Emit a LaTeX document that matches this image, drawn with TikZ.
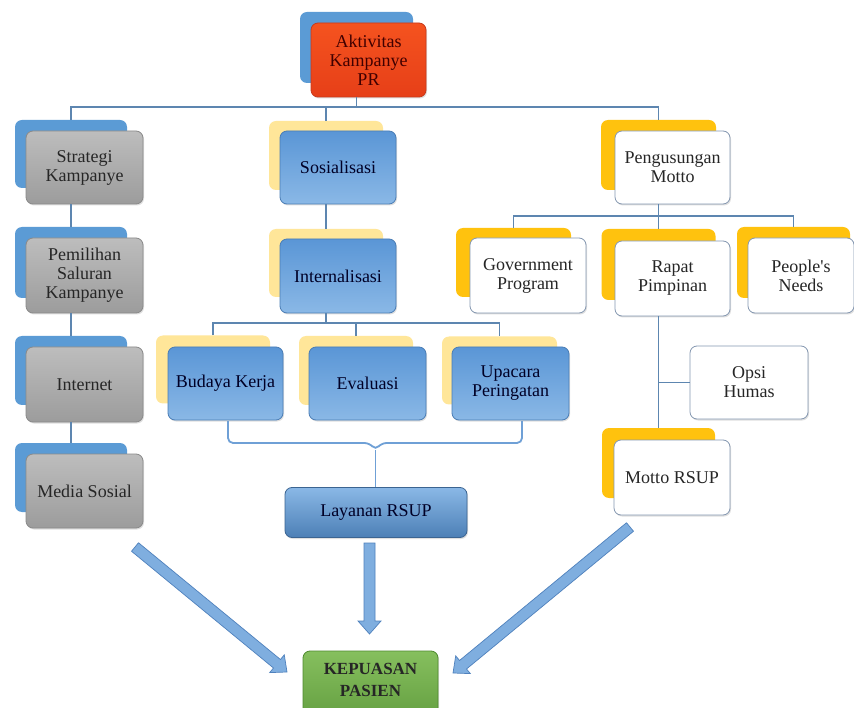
\documentclass[tikz,border=0pt]{standalone}
\usepackage{fontspec}
\setmainfont{Liberation Serif}
\newfontfamily\serifrm{Liberation Serif}
\usetikzlibrary{calc,shadows}
\definecolor{backblue}{HTML}{5B9BD5}
\definecolor{paleyel}{HTML}{FFE699}
\definecolor{gold}{HTML}{FFC20E}
\definecolor{linecol}{HTML}{5D86B0}
\definecolor{bluetop}{HTML}{5A96D6}
\definecolor{bluebot}{HTML}{8AB8E6}
\definecolor{blueline}{HTML}{4A7DB5}
\definecolor{graytop}{HTML}{BDBDBD}
\definecolor{graybot}{HTML}{9C9C9C}
\definecolor{grayline}{HTML}{8A8A8A}
\definecolor{redtop}{HTML}{F5531F}
\definecolor{redbot}{HTML}{E63F18}
\definecolor{redline}{HTML}{C73A1C}
\definecolor{greentop}{HTML}{86BF5E}
\definecolor{greenbot}{HTML}{5E9A3C}
\definecolor{greenline}{HTML}{4E8A2E}
\definecolor{whiteline}{HTML}{8497B0}
\definecolor{arrfill}{HTML}{7FAEDF}
\definecolor{arrline}{HTML}{4F81BD}
\definecolor{brkcol}{HTML}{6FA0D6}
\newcommand\boxfont{\serifrm\fontsize{18}{19}\selectfont}
\newcommand\myarrow[3]{%
  \coordinate (#1h) at ($(#3)!13pt!(#2)$);
  \filldraw[barrow] ($(#2)!5.5pt!90:(#3)$) -- ($(#1h)!5.5pt!90:(#3)$) -- ($(#1h)!11.5pt!90:(#3)$) -- (#3)
    -- ($(#1h)!11.5pt!-90:(#3)$) -- ($(#1h)!5.5pt!-90:(#3)$) -- ($(#2)!5.5pt!-90:(#3)$) -- cycle;}
\begin{document}
\begin{tikzpicture}[x=1pt,y=-1pt,
  back/.style={rounded corners=7pt, inner sep=0pt, minimum width=113pt, minimum height=70pt},
  bblue/.style={back, fill=backblue},
  byel/.style={back, fill=paleyel},
  bgold/.style={back, fill=gold},
  front/.style={rounded corners=7pt, inner sep=0pt, minimum width=116pt, minimum height=74pt,
    align=center, font=\boxfont, line width=0.8pt,
    drop shadow={opacity=0.25, shadow xshift=1pt, shadow yshift=-1.5pt}},
  fblue/.style={front, top color=bluetop, bottom color=bluebot, draw=blueline, text=black!85!blue},
  fgray/.style={front, top color=graytop, bottom color=graybot, draw=grayline, text=black!85},
  fwhite/.style={front, fill=white, draw=whiteline, text=black!85},
  fred/.style={front, top color=redtop, bottom color=redbot, draw=redline, text=black!75!red},
  fgreen/.style={front, top color=greentop, bottom color=greenbot, draw=greenline},
  greentext/.style={inner sep=0pt, align=center, text=black!85,
    font=\serifrm\fontsize{17}{22.5}\selectfont\bfseries},
  conn/.style={draw=linecol, line width=1.2pt},
  brk/.style={draw=brkcol, line width=1.8pt},
  barrow/.style={fill=arrfill, draw=arrline, line width=0.7pt, line join=miter}]
\clip (0,0) rectangle (854,708);
\fill[white] (0,0) rectangle (854,708);

% ---- back boxes
\node[bblue, minimum height=71pt] (aktB) at (356.5,47.5) {};
\node[bblue, minimum width=112pt, minimum height=68pt] (stratB) at (71,154) {};
\node[byel, minimum width=114pt, minimum height=69pt] (sosB) at (326,155.5) {};
\node[bgold, minimum width=115pt] (pengB) at (658.5,155) {};
\node[bgold, minimum width=115pt, minimum height=69pt] (govB) at (513.5,262.5) {};
\node[bgold, minimum width=114pt, minimum height=71pt] (rapB) at (658.5,264.5) {};
\node[bgold, minimum height=71pt] (peoB) at (793.5,262.5) {};
\node[bblue, minimum width=112pt, minimum height=71pt] (pemB) at (71,262.5) {};
\node[bblue, minimum width=112pt, minimum height=69pt] (intB) at (71,370.5) {};
\node[bblue, minimum width=112pt, minimum height=69pt] (medB) at (71,477.5) {};
\node[byel, minimum width=114pt, minimum height=68pt] (inlB) at (326,263) {};
\node[byel, minimum width=114pt, minimum height=68pt] (budB) at (213,369.5) {};
\node[byel, minimum width=114pt, minimum height=69pt] (evaB) at (356,370.5) {};
\node[byel, minimum width=115pt, minimum height=68pt] (upaB) at (499.5,370.5) {};
\node[bgold, minimum height=70pt] (motB) at (658.5,463) {};

% ---- front boxes
\node[fred, minimum width=115pt] (aktF) at (368.5,60) {Aktivitas\\Kampanye\\PR};
\node[fgray, minimum width=117pt, minimum height=73pt] (stratF) at (84.5,167.5) {Strategi\\Kampanye};
\node[fblue, minimum height=73pt] (sosF) at (338,167.5) {Sosialisasi};
\node[fwhite, minimum width=115pt, minimum height=73pt] (pengF) at (672.5,167.5) {Pengusungan\\Motto};
\node[fwhite, minimum height=75pt] (govF) at (528,275.5) {Government\\Program};
\node[fwhite, minimum width=115pt, minimum height=75pt] (rapF) at (672.5,278.5) {Rapat\\Pimpinan};
\node[fwhite, minimum width=106pt, minimum height=75pt] (peoF) at (801,275.5) {People\textquotesingle s\\Needs};
\node[fgray, minimum width=117pt, minimum height=75pt] (pemF) at (84.5,275.5) {Pemilihan\\Saluran\\Kampanye};
\node[fgray, minimum width=117pt, minimum height=75pt] (intF) at (84.5,384.5) {Internet};
\node[fgray, minimum width=117pt] (medF) at (84.5,491) {Media Sosial};
\node[fblue] (inlF) at (338,276) {Internalisasi};
\node[fblue, minimum width=115pt, minimum height=73pt] (budF) at (225.5,383.5) {Budaya Kerja};
\node[fblue, minimum width=117pt, minimum height=73pt] (evaF) at (367.5,383.5) {Evaluasi};
\node[fblue, minimum width=117pt, minimum height=73pt] (upaF) at (510.5,383.5) {Upacara\\Peringatan};
\node[fwhite, minimum width=118pt, minimum height=73pt] (opsF) at (749,382.5) {Opsi\\Humas};
\node[fwhite, minimum height=75pt] (motF) at (672,477.5) {Motto RSUP};
\node[fblue, minimum width=182pt, minimum height=50pt, top color=bluebot, bottom color=bluetop!85!black, draw=blueline!80!black] (layF) at (376,512.5) {Layanan RSUP};
\node[fgreen, minimum width=135pt, minimum height=80pt] (kepF) at (370.5,691) {};
\node[greentext] (kepT) at (370.5,680) {KEPUASAN\\PASIEN};

% ---- connectors
\coordinate (hb) at (0,107);
\coordinate (hp) at (0,216);
\coordinate (hi) at (0,323);
\draw[conn] (aktB.center |- aktF.south) -- (aktB.center |- hb);
\draw[conn] (stratB.north) |- (pengB.north |- hb) -- (pengB.north);
\draw[conn] (sosB.north) -- (sosB.north |- hb);
\draw[conn] (stratB.center |- stratF.south) -- (pemB.north);
\draw[conn] (pemB.center |- pemF.south) -- (intB.north);
\draw[conn] (intB.center |- intF.south) -- (medB.north);
\draw[conn] (sosB.center |- sosF.south) -- (inlB.north);
\draw[conn] (inlB.center |- inlF.south) -- (inlB.center |- hi);
\draw[conn] (budB.north) |- (upaB.north |- hi) -- (upaB.north);
\draw[conn] (evaB.north) -- (evaB.north |- hi);
\draw[conn] (pengB.center |- pengF.south) -- (pengB.center |- hp);
\draw[conn] (govB.north) |- (peoB.north |- hp) -- (peoB.north);
\draw[conn] (rapB.north) -- (rapB.north |- hp);
\draw[conn] (rapB.center |- rapF.south) -- (motB.north);
\draw[conn] (opsF.west) -- (opsF.west -| rapB.center);

% ---- bracket to Layanan RSUP
\coordinate (brl) at (228,421);
\coordinate (brr) at (522,421);
\coordinate (brc) at (375.5,450);
\draw[brk, rounded corners=5pt] (brl) |- (369.5,443) -- (brc) -- (381.5,443) -| (brr);
\draw[brk] (brc) -- (brc |- layF.north);

% ---- block arrows
\coordinate (a1s) at (135,547);
\coordinate (a1e) at (287,672);
\coordinate (a2s) at (369.5,543);
\coordinate (a2e) at (369.5,634);
\coordinate (a3s) at (630,527);
\coordinate (a3e) at (453,673);
\myarrow{a1}{a1s}{a1e}
\myarrow{a2}{a2s}{a2e}
\myarrow{a3}{a3s}{a3e}
\end{tikzpicture}
\end{document}
